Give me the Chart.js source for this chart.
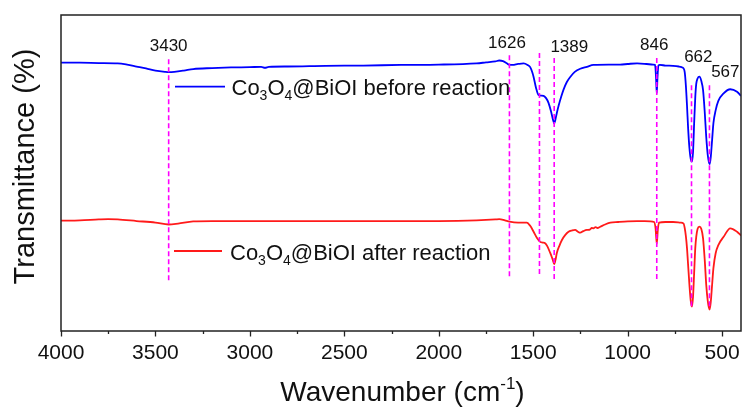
<!DOCTYPE html>
<html>
<head>
<meta charset="utf-8">
<script src="https://cdn.jsdelivr.net/npm/chart.js@4/dist/chart.umd.min.js"></script>
<style>
html,body{margin:0;padding:0;background:#fff;overflow:hidden;}
canvas{display:block;}
</style>
</head>
<body>
<canvas id="c" width="742" height="407"></canvas>
<script>
// ---------- DATA ----------
const waveBefore = [4000,3900,3800,3700,3650,3600,3550,3500,3450,3430,3400,3350,3300,3200,3100,3000,2940,2920,2900,2800,2600,2400,2200,2000,1800,1750,1700,1680,1660,1640,1626,1610,1580,1551,1530,1516,1505,1498,1485,1472,1458,1445,1432,1419,1405,1395,1389,1383,1375,1366,1352,1340,1322,1304,1280,1251,1216,1181,1100,1040,1000,950,900,865,855,850,846,842,837,830,800,760,730,715,704,698,692,686,680,673,666,660,654,648,642,637,630,620,610,601,592,584,576,570,566,560,553,546,534,520,492,457,421,400];
const transBefore = [84.9,84.9,84.8,84.7,84.3,83.7,83.1,82.4,82.0,81.9,82.0,82.4,82.9,83.2,83.4,83.5,83.6,83.3,83.6,83.7,83.9,84.0,84.2,84.3,84.7,85.0,85.3,85.6,85.4,84.7,84.2,84.2,84.5,84.7,84.2,83.5,81.9,80.4,76.9,74.7,74.5,74.4,73.7,72.2,69.3,66.8,65.7,66.8,69.0,71.2,74.1,76.3,78.8,80.4,82.0,83.0,83.6,84.2,84.3,84.3,84.5,84.7,84.5,84.3,84.2,80.4,75.2,80.4,84.0,84.2,84.0,83.9,83.7,83.5,83.1,81.9,77.8,71.5,64.2,57.9,54.4,53.6,56.6,65.8,74.1,78.2,79.9,80.5,79.1,76.3,69.3,61.4,55.7,53.5,52.8,55.1,60.4,65.8,69.9,72.8,75.2,76.5,75.7,74.4];

const waveAfter = [4000,3900,3800,3750,3700,3600,3500,3430,3380,3300,3200,3000,2500,2000,1800,1700,1680,1650,1626,1580,1534,1515,1498,1480,1463,1450,1437,1425,1410,1398,1389,1382,1375,1360,1348,1330,1313,1295,1278,1265,1251,1235,1216,1200,1190,1181,1170,1160,1145,1120,1092,1050,1000,950,880,860,852,846,840,834,800,760,720,704,698,692,686,680,673,666,660,654,648,642,637,630,620,610,601,592,584,576,570,566,560,553,546,534,520,492,457,421,400];
const transAfter = [34.9,35.0,35.3,35.4,35.3,34.8,34.3,33.7,34.0,34.7,34.8,34.8,34.8,34.8,35.0,35.3,35.4,35.0,34.6,34.3,34.3,33.2,31.4,29.4,28.2,28.0,27.8,26.8,24.7,22.8,21.2,22.5,24.7,27.2,28.8,30.4,31.4,31.8,32.0,31.5,31.1,31.6,32.0,32.1,32.6,32.5,32.9,32.6,33.0,33.7,34.3,34.5,34.7,34.8,34.7,34.5,32.3,27.6,32.3,34.3,34.5,34.5,34.3,34.0,32.6,30.1,26.3,20.9,14.6,9.5,7.7,10.8,18.4,26.3,29.8,32.3,33.0,32.3,29.4,22.5,14.6,9.5,7.4,6.8,9.2,14.6,19.9,24.7,27.2,29.8,32.5,31.4,30.2];

const seriesNames = ['before reaction','after reaction'];
const xTickValues = [4000,3500,3000,2500,2000,1500,1000,500];
const xMinorValues = [3750,3250,2750,2250,1750,1250,750];

const markerWave = [3430,1626,1467,1389,846,662,567];
const markerTop = [86.0,87.3,88.0,86.4,86.4,77.8,77.8];
const markerBottom = [15.6,16.8,17.2,16.1,16.1,7.7,7.3];

const peakLabels = ['3430','1626','1389','846','662','567'];
const peakLabelX = [3430,1639,1309,859,626,483];
const peakLabelY = [90.0,91.1,89.7,90.5,86.5,82.0];

// ---------- STYLE ----------
const FONT = "'Liberation Sans', Arial, Helvetica, sans-serif";
const BLUE = '#0000ff';
const RED = '#ff1a1a';
const MAGENTA = '#ff00ff';

const datasets = [];
markerWave.forEach((w,i)=>{
  datasets.push({
    data:[{x:w,y:markerTop[i]},{x:w,y:markerBottom[i]}],
    borderColor:MAGENTA, borderWidth:1.6, borderDash:[5,3],
    pointRadius:0, order:0, tension:0
  });
});
datasets.push({
  label:seriesNames[0],
  data:waveBefore.map((w,i)=>({x:w,y:transBefore[i]})),
  borderColor:BLUE, borderWidth:1.8, pointRadius:0, order:1,
  cubicInterpolationMode:'monotone'
});
datasets.push({
  label:seriesNames[1],
  data:waveAfter.map((w,i)=>({x:w,y:transAfter[i]})),
  borderColor:RED, borderWidth:1.8, pointRadius:0, order:1,
  cubicInterpolationMode:'monotone'
});

function drawRich(ctx, x, baseline, parts){
  parts.forEach(p=>{
    ctx.font = p.size + 'px ' + FONT;
    ctx.fillText(p.t, x, baseline + (p.dy||0));
    x += ctx.measureText(p.t).width;
  });
}
function richWidth(ctx, parts){
  let w=0;
  parts.forEach(p=>{ctx.font = p.size + 'px ' + FONT; w += ctx.measureText(p.t).width;});
  return w;
}
function legendParts(tail){
  return [{t:'Co',size:22},{t:'3',size:14,dy:5},{t:'O',size:22},{t:'4',size:14,dy:5},{t:'@BiOI '+tail,size:22}];
}

const decor = {
  id:'decor',
  afterDraw(chart){
    const {ctx, chartArea:a, scales:{x,y}} = chart;
    ctx.save();
    // frame
    ctx.strokeStyle='#222'; ctx.lineWidth=1.5;
    ctx.strokeRect(a.left, a.top, a.right-a.left, a.bottom-a.top);
    // ticks (outward)
    ctx.beginPath();
    xTickValues.forEach(v=>{const p=Math.round(x.getPixelForValue(v))+0.5; ctx.moveTo(p,a.bottom); ctx.lineTo(p,a.bottom+5.5);});
    xMinorValues.forEach(v=>{const p=Math.round(x.getPixelForValue(v))+0.5; ctx.moveTo(p,a.bottom); ctx.lineTo(p,a.bottom+3);});
    ctx.lineWidth=1.3; ctx.stroke();
    // peak labels
    ctx.fillStyle='#111'; ctx.font='17px '+FONT; ctx.textAlign='center'; ctx.textBaseline='middle';
    peakLabels.forEach((t,i)=>ctx.fillText(t, x.getPixelForValue(peakLabelX[i]), y.getPixelForValue(peakLabelY[i])));
    // legends
    ctx.textAlign='left'; ctx.textBaseline='alphabetic';
    const legends = [
      {color:BLUE, tail:'before reaction', x0:175, x1:225, ly:86.7, tx:231.5, base:94.5},
      {color:RED, tail:'after reaction', x0:174, x1:222, ly:251, tx:230, base:260}
    ];
    legends.forEach(l=>{
      ctx.strokeStyle=l.color; ctx.lineWidth=1.8;
      ctx.beginPath(); ctx.moveTo(l.x0,l.ly); ctx.lineTo(l.x1,l.ly); ctx.stroke();
      ctx.fillStyle='#111';
      drawRich(ctx, l.tx, l.base, legendParts(l.tail));
    });
    // x title with superscript
    const tparts=[{t:'Wavenumber (cm',size:28},{t:'-1',size:17,dy:-12},{t:')',size:28}];
    const tw = richWidth(ctx,tparts);
    ctx.fillStyle='#111';
    drawRich(ctx, (a.left+a.right)/2 + 1.5 - tw/2, 401, tparts);
    // y title
    ctx.save();
    ctx.translate(26, 166.5);
    ctx.rotate(-Math.PI/2);
    ctx.font='29px '+FONT; ctx.textAlign='center'; ctx.textBaseline='middle';
    ctx.fillText('Transmittance (%)', 0, 0);
    ctx.restore();
    ctx.restore();
  }
};

new Chart(document.getElementById('c'), {
  type:'line',
  data:{datasets},
  options:{
    responsive:false, animation:false,
    layout:{padding:{left:0,right:1,top:15,bottom:0}},
    plugins:{legend:{display:false}, tooltip:{enabled:false}},
    scales:{
      x:{
        type:'linear', reverse:true, min:400, max:4000,
        afterBuildTicks:(s)=>{s.ticks = xTickValues.map(v=>({value:v}));},
        afterFit:(s)=>{s.height=76; s.paddingLeft=0; s.paddingRight=0;},
        ticks:{callback:(v)=>String(v), font:{size:21,family:FONT}, color:'#111', padding:10, maxRotation:0, autoSkip:false},
        grid:{display:false, drawTicks:false},
        border:{display:false}
      },
      y:{
        min:0, max:100,
        afterFit:(s)=>{s.width=61;},
        ticks:{display:false},
        grid:{display:false, drawTicks:false},
        border:{display:false},
        title:{display:false}
      }
    }
  },
  plugins:[decor]
});
</script>
</body>
</html>
